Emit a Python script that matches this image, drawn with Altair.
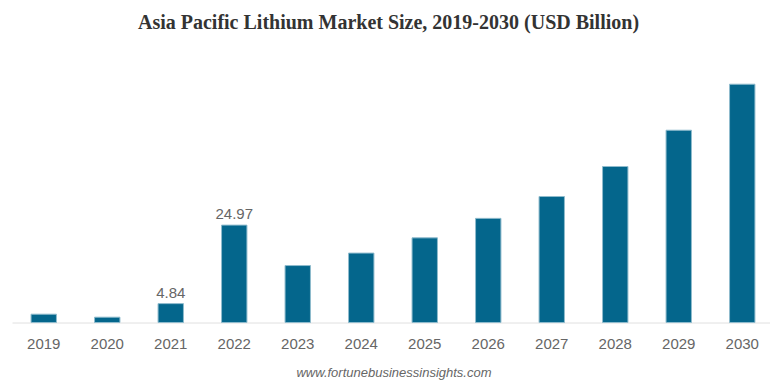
import altair as alt
import pandas as pd

years = ["2019", "2020", "2021", "2022", "2023", "2024", "2025", "2026", "2027", "2028", "2029", "2030"]
values = [2.13, 1.36, 4.84, 24.97, 14.6, 17.8, 21.7, 26.7, 32.3, 40.0, 49.3, 61.1]
labels = ["", "", "4.84", "24.97", "", "", "", "", "", "", "", ""]
title_text = "Asia Pacific Lithium Market Size, 2019-2030 (USD Billion)"
footer_text = "www.fortunebusinessinsights.com"

df = pd.DataFrame({"year": years, "value": values, "label": labels})

W, H = 758, 273

x = alt.X("year:N", sort=years, title=None,
          scale=alt.Scale(paddingInner=0.6, paddingOuter=0.3, range=[0, 762]),
          axis=alt.Axis(labelAngle=0, ticks=False, tickSize=0, grid=False,
                        domainColor="#e0e0e0", domainWidth=1,
                        labelColor="#666666", labelFontSize=15,
                        labelFont="Liberation Sans", labelPadding=14))
y = alt.Y("value:Q", title=None, scale=alt.Scale(domain=[0, 70], nice=False, zero=True),
          axis=None)

bars = alt.Chart(df).mark_bar(color="#04668c", stroke="#8fbbcd", strokeWidth=1).encode(x=x, y=y)

text = alt.Chart(df).mark_text(baseline="alphabetic", dy=-6, fontSize=15,
                               font="Liberation Sans", color="#666666").encode(
    x=alt.X("year:N", sort=years), y="value:Q", text="label:N")

footer = alt.Chart(pd.DataFrame({"t": [footer_text]})).mark_text(
    fontSize=13, font="Liberation Sans", fontStyle="italic", color="#666666",
    baseline="alphabetic", align="center").encode(
    x=alt.value(382), y=alt.value(327), text="t:N")

chart = alt.layer(bars, text, footer).properties(
    width=W, height=H,
    title=alt.TitleParams(title_text, font="Liberation Serif", fontSize=20,
                          fontWeight="bold", color="#333333", anchor="middle",
                          offset=17, dx=-2.5),
    autosize=alt.AutoSizeParams(type="none"),
    padding={"left": 4, "top": 41.5, "right": 0, "bottom": 60},
).configure(background="white", view=alt.ViewConfig(stroke=None, strokeWidth=0))

chart.save("out.html", embed_options={"renderer": "svg", "actions": False})
